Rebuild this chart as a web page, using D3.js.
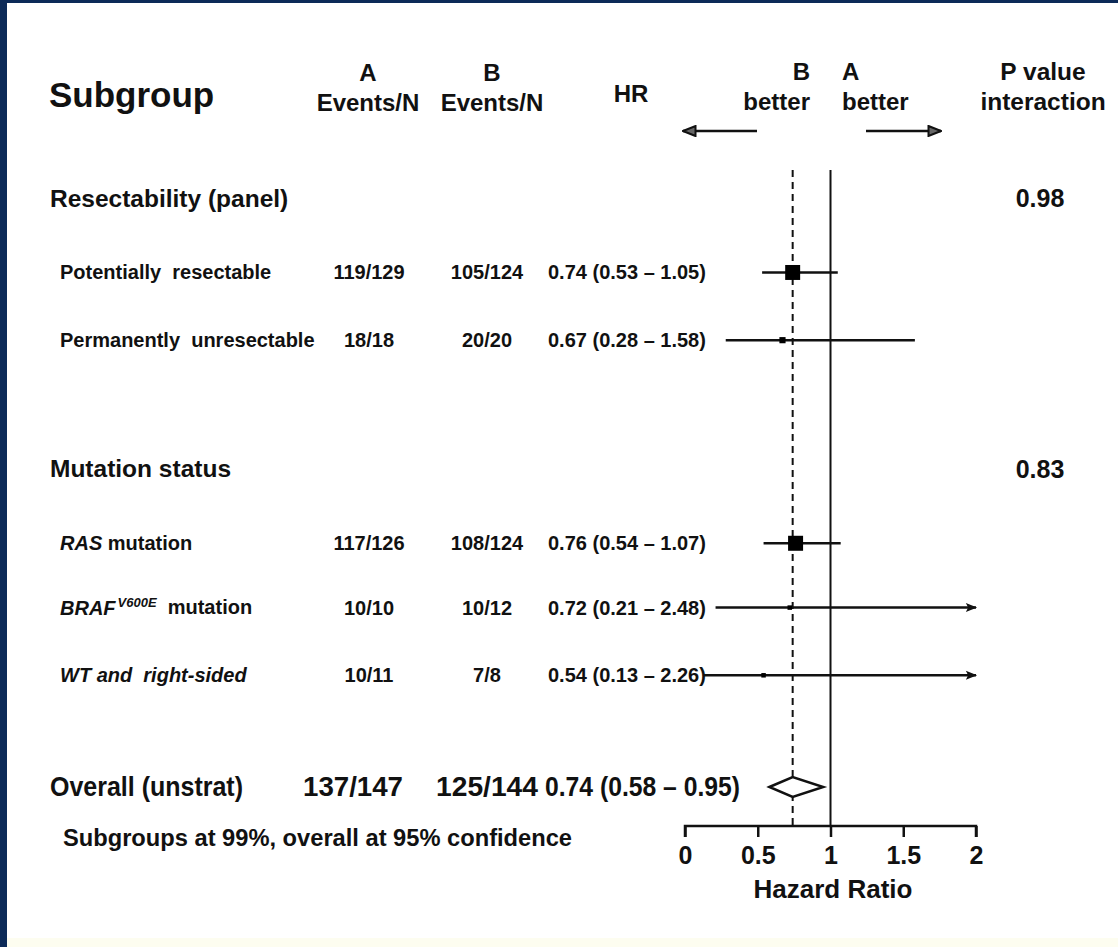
<!DOCTYPE html>
<html>
<head>
<meta charset="utf-8">
<script src="https://cdn.jsdelivr.net/npm/d3@7"></script>
<style>
  body { margin: 0; background: #fff; }
  #chart { width: 1118px; height: 947px; }
  text { font-family: "Liberation Sans", Arial, sans-serif; font-weight: bold; fill: #111; }
</style>
</head>
<body>
<div id="chart"></div>
<script>
// ---- data ----
const groups = ["Resectability (panel)", "Mutation status"];
const pInteraction = ["0.98", "0.83"];
const subgroups = ["Potentially  resectable", "Permanently  unresectable", "RAS", "BRAF", "WT and  right-sided"];
const groupOf = [0, 0, 1, 1, 1];
const eventsA = ["119/129", "18/18", "117/126", "10/10", "10/11"];
const eventsB = ["105/124", "20/20", "108/124", "10/12", "7/8"];
const totalEvents = [224, 38, 225, 20, 17];
const hr = [0.74, 0.67, 0.76, 0.72, 0.54];
const lower = [0.53, 0.28, 0.54, 0.21, 0.13];
const upper = [1.05, 1.58, 1.07, 2.48, 2.26];
const overallCounts = ["137/147", "125/144"];
const overallHr = [0.74, 0.58, 0.95]; // estimate, lower, upper
const hrTicks = [0, 0.5, 1, 1.5, 2];

// ---- layout ----
const W = 1118, H = 947;
const svg = d3.select("#chart")
    .append("svg")
    .attr("width", W)
    .attr("height", H);

// frame
svg.append("rect").attr("width", W).attr("height", H).attr("fill", "#0c2a58");
svg.append("rect").attr("x", 7).attr("y", 3).attr("width", W - 7).attr("height", H - 3).attr("fill", "#ffffff");
svg.append("rect").attr("x", 7).attr("y", 938).attr("width", W - 7).attr("height", 9).attr("fill", "#fdfdf0");

const defs = svg.append("defs");
defs.append("marker")
    .attr("id", "arrowR")
    .attr("viewBox", "0 0 10 10")
    .attr("refX", 9)
    .attr("refY", 5)
    .attr("markerWidth", 5)
    .attr("markerHeight", 4.5)
    .attr("markerUnits", "strokeWidth")
    .attr("orient", "auto")
  .append("path")
    .attr("d", "M 0 1 L 10 5 L 0 9 L 2 5 z")
    .attr("fill", "#111");

defs.append("marker")
    .attr("id", "arrowHead")
    .attr("viewBox", "0 0 12 10")
    .attr("refX", 11)
    .attr("refY", 5)
    .attr("markerWidth", 6)
    .attr("markerHeight", 5)
    .attr("markerUnits", "strokeWidth")
    .attr("orient", "auto")
  .append("path")
    .attr("d", "M 1 1 L 11 5 L 1 9 z")
    .attr("fill", "#666")
    .attr("stroke", "#111")
    .attr("stroke-width", 1.6);

// x scale for hazard ratio
const x = d3.scaleLinear().domain([0, 2]).range([685, 976]);

// vertical slots for rows
const y = d3.scaleLinear().domain([0, 8.7]).range([198, 787]);
const groupSlot = [0, 4.0];
const subSlot = [1.1, 2.1, 5.1, 6.05, 7.05];
const overallSlot = 8.7;

const size = d3.scaleSqrt().domain([0, 225]).range([0, 15]);

const axisY = 826;
const g = svg.append("g");

// condensed text helper: squeeze a larger font into the narrow width seen in the figure
function narrow(sel, len) {
    return sel.attr("textLength", len).attr("lengthAdjust", "spacingAndGlyphs");
}

// ---- header ----
g.append("text").attr("x", 49).attr("y", 107).attr("font-size", 35).text("Subgroup");

[["A", 368], ["B", 492]].forEach(([arm, cx]) => {
    g.append("text").attr("x", cx).attr("y", 81).attr("text-anchor", "middle").attr("font-size", 24).text(arm);
    g.append("text").attr("x", cx).attr("y", 111).attr("text-anchor", "middle").attr("font-size", 24).text("Events/N");
});
g.append("text").attr("x", 631).attr("y", 102).attr("text-anchor", "middle").attr("font-size", 24).text("HR");

g.append("text").attr("x", 810).attr("y", 80).attr("text-anchor", "end").attr("font-size", 24).text("B");
g.append("text").attr("x", 810).attr("y", 110).attr("text-anchor", "end").attr("font-size", 24).text("better");
g.append("text").attr("x", 842).attr("y", 80).attr("font-size", 24).text("A");
g.append("text").attr("x", 842).attr("y", 110).attr("font-size", 24).text("better");

g.append("line").attr("x1", 757).attr("x2", 683).attr("y1", 131).attr("y2", 131)
    .attr("stroke", "#111").attr("stroke-width", 2.5).attr("marker-end", "url(#arrowHead)");
g.append("line").attr("x1", 866).attr("x2", 941).attr("y1", 131).attr("y2", 131)
    .attr("stroke", "#111").attr("stroke-width", 2.5).attr("marker-end", "url(#arrowHead)");

g.append("text").attr("x", 1043).attr("y", 80).attr("text-anchor", "middle").attr("font-size", 24.5).text("P value");
g.append("text").attr("x", 1043).attr("y", 110).attr("text-anchor", "middle").attr("font-size", 24.5).text("interaction");

// ---- reference lines ----
g.append("line")
    .attr("x1", x(1)).attr("x2", x(1))
    .attr("y1", 170).attr("y2", axisY)
    .attr("stroke", "#111").attr("stroke-width", 2);
g.append("line")
    .attr("x1", x(overallHr[0])).attr("x2", x(overallHr[0]))
    .attr("y1", 170).attr("y2", axisY)
    .attr("stroke", "#111").attr("stroke-width", 2)
    .attr("stroke-dasharray", "7,5");

// ---- group rows ----
groups.forEach((name, i) => {
    g.append("text").attr("x", 50).attr("y", y(groupSlot[i])).attr("dy", "0.35em")
        .attr("font-size", 24.5).text(name);
    g.append("text").attr("x", 1040).attr("y", y(groupSlot[i])).attr("dy", "0.35em")
        .attr("text-anchor", "middle").attr("font-size", 25).text(pInteraction[i]);
});

// ---- subgroup rows ----
subgroups.forEach((name, i) => {
    const cy = y(subSlot[i]);
    const lab = g.append("text").attr("x", 60).attr("y", cy).attr("dy", "0.35em").attr("font-size", 20)
        .attr("xml:space", "preserve");
    if (name === "RAS") {
        lab.append("tspan").attr("font-style", "italic").text("RAS");
        lab.append("tspan").text(" mutation");
    } else if (name === "BRAF") {
        lab.append("tspan").attr("font-style", "italic").text("BRAF");
        lab.append("tspan").attr("font-style", "italic").attr("font-size", 13).attr("dx", 2).attr("dy", "-0.55em").text("V600E");
        lab.append("tspan").attr("dy", "0.35em").text("  mutation");
    } else if (groupOf[i] === 1) {
        lab.attr("font-style", "italic").text(name);
    } else {
        lab.text(name);
    }

    g.append("text").attr("x", 369).attr("y", cy).attr("dy", "0.35em").attr("text-anchor", "middle")
        .attr("font-size", 20).text(eventsA[i]);
    g.append("text").attr("x", 487).attr("y", cy).attr("dy", "0.35em").attr("text-anchor", "middle")
        .attr("font-size", 20).text(eventsB[i]);
    g.append("text").attr("x", 548).attr("y", cy).attr("dy", "0.35em").attr("font-size", 20)
        .attr("xml:space", "preserve")
        .text(`${hr[i].toFixed(2)} (${lower[i].toFixed(2)} \u2013 ${upper[i].toFixed(2)})`);

    const clipped = upper[i] > x.domain()[1];
    g.append("line")
        .attr("x1", x(lower[i])).attr("x2", x(Math.min(upper[i], x.domain()[1])))
        .attr("y1", cy).attr("y2", cy)
        .attr("stroke", "#111").attr("stroke-width", 2.5)
        .attr("marker-end", clipped ? "url(#arrowR)" : null);

    const s = Math.max(size(totalEvents[i]), 4.5);
    g.append("rect")
        .attr("x", x(hr[i]) - s / 2).attr("y", cy - s / 2)
        .attr("width", s).attr("height", s)
        .attr("fill", "#000");
});

// ---- overall ----
const oy = y(overallSlot);
narrow(g.append("text").attr("x", 50).attr("y", oy).attr("dy", "0.35em").attr("font-size", 27)
    .text("Overall (unstrat)"), 193);
narrow(g.append("text").attr("x", 353).attr("y", oy).attr("dy", "0.35em").attr("text-anchor", "middle").attr("font-size", 27)
    .text(overallCounts[0]), 100);
narrow(g.append("text").attr("x", 487).attr("y", oy).attr("dy", "0.35em").attr("text-anchor", "middle").attr("font-size", 27)
    .text(overallCounts[1]), 102);
narrow(g.append("text").attr("x", 545).attr("y", oy).attr("dy", "0.35em").attr("font-size", 27)
    .text(`${overallHr[0].toFixed(2)} (${overallHr[1].toFixed(2)} \u2013 ${overallHr[2].toFixed(2)})`), 195);

g.append("path")
    .attr("d", `M${x(overallHr[1])},${oy} L${x(overallHr[0])},${oy - 10} L${x(overallHr[2])},${oy} L${x(overallHr[0])},${oy + 10} Z`)
    .attr("fill", "#fff")
    .attr("stroke", "#111")
    .attr("stroke-width", 2.5);

narrow(g.append("text").attr("x", 63).attr("y", 846).attr("font-size", 23)
    .text("Subgroups at 99%, overall at 95% confidence"), 509);

// ---- axis ----
const axis = g.append("g")
    .attr("transform", `translate(0,${axisY})`)
    .call(d3.axisBottom(x).tickValues(hrTicks).tickFormat(d3.format("")).tickSize(11).tickPadding(9));
axis.select(".domain").attr("stroke", "#111").attr("stroke-width", 2.5)
    .attr("d", `M${x(0)},11V0H${x(2)}V11`);
axis.selectAll(".tick line").attr("stroke", "#111").attr("stroke-width", 2.5);
axis.selectAll(".tick text")
    .attr("font-family", "Liberation Sans, Arial, sans-serif")
    .attr("font-weight", "bold")
    .attr("font-size", 25)
    .attr("fill", "#111");

g.append("text").attr("x", 833).attr("y", 898).attr("text-anchor", "middle").attr("font-size", 26).text("Hazard Ratio");
</script>
</body>
</html>
